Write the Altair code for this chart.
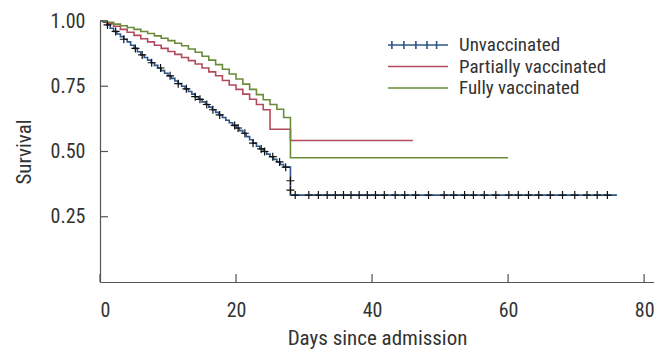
import altair as alt
import pandas as pd

FONT = "Liberation Sans Narrow, Arial Narrow, Roboto Condensed, Roboto, sans-serif"
TEXT = "#333333"
AXIS = "#555555"

groups = ["Unvaccinated", "Partially vaccinated", "Fully vaccinated"]
colors = ["#2f5687", "#b24a5d", "#6a8c3a"]

unvax_days = [0, 0.5, 1, 1.5, 2, 2.5, 3, 3.5, 4, 4.5, 5, 5.5, 6, 6.5, 7, 7.5, 8, 8.5, 9, 9.5,
              10, 10.5, 11, 11.5, 12, 12.5, 13, 13.5, 14, 14.5, 15, 15.5, 16, 16.5, 17, 17.5,
              18, 18.5, 19, 19.5, 20, 20.5, 21, 21.5, 22, 22.5, 23, 23.5, 24, 24.5, 25, 25.5,
              26, 26.5, 27, 28, 76]
unvax_surv = [1.0, 0.995, 0.985, 0.972, 0.96, 0.95, 0.94, 0.93, 0.92, 0.907, 0.895, 0.882,
              0.87, 0.86, 0.85, 0.84, 0.83, 0.82, 0.81, 0.80, 0.79, 0.78, 0.77, 0.76, 0.75,
              0.74, 0.73, 0.72, 0.71, 0.70, 0.69, 0.68, 0.67, 0.66, 0.65, 0.64, 0.63, 0.62,
              0.61, 0.60, 0.59, 0.58, 0.57, 0.557, 0.545, 0.532, 0.52, 0.51, 0.50, 0.49, 0.48,
              0.47, 0.46, 0.45, 0.44, 0.333, 0.333]

partial_days = [0, 1, 2, 3, 4, 5, 6, 7, 8, 9, 10, 11, 12, 13, 14, 15, 16, 17, 18, 19, 20,
                21, 22, 23, 24, 25, 28, 46]
partial_surv = [1.0, 0.99, 0.98, 0.968, 0.957, 0.945, 0.932, 0.92, 0.907, 0.895, 0.883,
                0.872, 0.86, 0.848, 0.835, 0.82, 0.805, 0.79, 0.772, 0.755, 0.738, 0.72,
                0.70, 0.68, 0.66, 0.585, 0.542, 0.542]

full_days = [0, 1, 2, 3, 4, 5, 6, 7, 8, 9, 10, 11, 12, 13, 14, 15, 16, 17, 18, 19, 20, 21,
             22, 23, 24, 25, 26, 27, 28, 60]
full_surv = [1.0, 0.995, 0.988, 0.982, 0.975, 0.968, 0.96, 0.952, 0.943, 0.934, 0.925,
             0.915, 0.905, 0.893, 0.88, 0.865, 0.85, 0.833, 0.815, 0.797, 0.778, 0.758,
             0.738, 0.718, 0.698, 0.68, 0.662, 0.63, 0.476, 0.476]

# censoring marks on the unvaccinated curve
cens_days = [1.1, 2.3, 3.5, 5.2, 6.2, 7.6, 8.9, 10.3, 11.5, 12.7, 14.0, 14.7, 15.7, 16.6,
             17.6, 19.8, 20.3, 21.3, 22.5, 23.7, 24.2, 25.4, 26.4, 27.3,
             28.7, 30.7, 32.1, 33.4, 34.6, 35.8, 36.9, 38.1, 39.3, 40.5, 41.8, 43.4, 44.8,
             46.4, 48.3, 50.6, 52.0, 53.6, 54.9, 56.5, 58.2, 60.1, 61.5, 63.0, 64.5, 66.2,
             68.0, 69.8, 71.6, 73.1, 74.6]
cens_vert_days = [28, 28]
cens_vert_surv = [0.388, 0.352]

x_ticks = [0, 20, 40, 60, 80]
y_ticks = [0.25, 0.5, 0.75, 1.0]


def step_value(days, surv, t):
    idx = max(i for i, d in enumerate(days) if d <= t)
    return surv[idx]


rows = []
for g, d, s in [(groups[0], unvax_days, unvax_surv),
                (groups[1], partial_days, partial_surv),
                (groups[2], full_days, full_surv)]:
    for i, (dd, ss) in enumerate(zip(d, s)):
        rows.append({"group": g, "day": dd, "surv": ss, "order": i})
curves = pd.DataFrame(rows)

cens = pd.DataFrame(
    [{"day": t, "surv": step_value(unvax_days, unvax_surv, t)} for t in cens_days]
    + [{"day": t, "surv": s} for t, s in zip(cens_vert_days, cens_vert_surv)]
)

# legend-only helper rows (drawn outside the clipped plot area)
legend_df = pd.DataFrame({"group": groups, "day": [-50] * 3, "surv": [0.5] * 3})

W, H = 554, 261
xscale = alt.Scale(domain=[0, 81.45], nice=False, zero=False)
yscale = alt.Scale(domain=[0, 1], nice=False)
cscale = alt.Scale(domain=groups, range=colors)

cross_path = "M-1,0L1,0M0,-1L0,1"
legend_line = "M-3,0L3,0"
legend_cross = legend_line + "".join(
    f"M{c},-0.4L{c},0.4" for c in [-2.61, -1.41, -0.21, 0.9, 1.86])


def make_legend():
    return alt.Legend(
        title=None, orient="none", legendX=307, legendY=13,
        symbolSize=400, symbolStrokeWidth=1.6,
        labelFont=FONT, labelFontSize=19, labelColor=TEXT,
        labelOffset=30, rowPadding=0.5, padding=0)


lines = alt.Chart(curves).mark_line(interpolate="step-after", strokeWidth=1.6).encode(
    x=alt.X("day:Q", scale=xscale,
            axis=alt.Axis(values=x_ticks, title="Days since admission", ticks=False,
                          grid=False, labelPadding=18, titlePadding=7, format="d")),
    y=alt.Y("surv:Q", scale=yscale,
            axis=alt.Axis(values=y_ticks, title="Survival", ticks=False, grid=False,
                          format=".2f", labelPadding=15, titlePadding=16)),
    color=alt.Color("group:N", scale=cscale, legend=make_legend()),
    detail="group:N",
    order="order:Q",
)

leg = alt.Chart(legend_df).mark_point(filled=False, strokeWidth=1.6, clip=True, opacity=1).encode(
    x=alt.X("day:Q", scale=xscale),
    y=alt.Y("surv:Q", scale=yscale),
    color=alt.Color("group:N", scale=cscale, legend=make_legend()),
    shape=alt.Shape("group:N", scale=alt.Scale(domain=groups,
                                               range=[legend_cross, legend_line, legend_line]),
                    legend=make_legend()),
)

crosses = alt.Chart(cens).mark_point(shape=cross_path, size=64, filled=False,
                                     color="#111111", strokeWidth=1.2, opacity=1).encode(
    x=alt.X("day:Q", scale=xscale),
    y=alt.Y("surv:Q", scale=yscale),
)

xt = alt.Chart(pd.DataFrame({"v": x_ticks})).mark_rule(color=AXIS, strokeWidth=1.2).encode(
    x=alt.X("v:Q", scale=xscale), y=alt.value(H), y2=alt.value(H - 8))
yt = alt.Chart(pd.DataFrame({"v": y_ticks})).mark_rule(color=AXIS, strokeWidth=1.2).encode(
    y=alt.Y("v:Q", scale=yscale), x=alt.value(0), x2=alt.value(8))

chart = alt.layer(lines, crosses, xt, yt, leg).properties(
    width=W, height=H,
    background="white",
    autosize=alt.AutoSizeParams(type="none"),
    padding={"left": 92, "top": 13, "right": 0, "bottom": 67},
).configure_view(stroke=None).configure_axis(
    domainColor=AXIS, domainWidth=1.2,
    labelFont=FONT, labelFontSize=20, labelColor=TEXT,
    titleFont=FONT, titleFontSize=21, titleColor=TEXT, titleFontWeight="normal",
)

chart.save("out.html", embed_options={"renderer": "svg", "actions": False})
